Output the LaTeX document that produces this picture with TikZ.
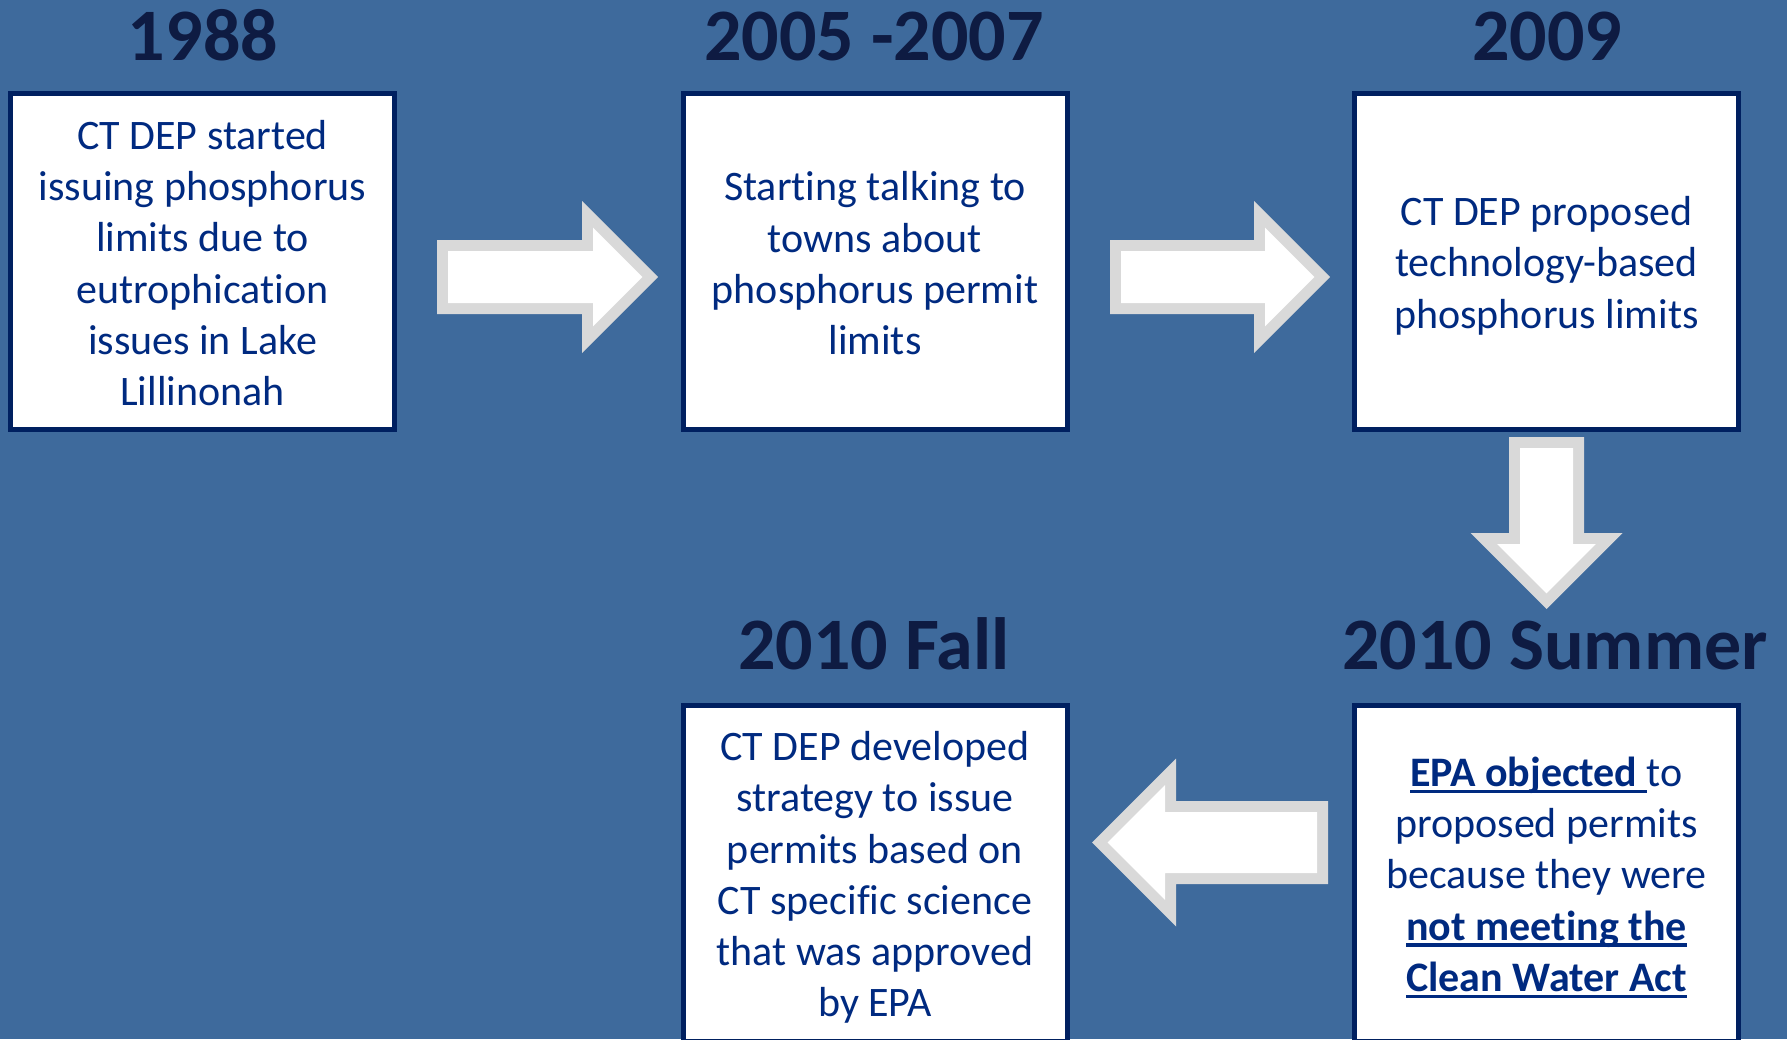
\documentclass[tikz,border=0pt]{standalone}
\usepackage{fontspec}
\setmainfont{Carlito}[Ligatures=NoCommon]
\definecolor{bgblue}{HTML}{3E6A9C}
\definecolor{boxnavy}{HTML}{002060}
\definecolor{bodyblue}{HTML}{002A80}
\definecolor{titlenavy}{HTML}{0E1B42}
\definecolor{rimgray}{HTML}{D9D9D9}

% bold text with a heavy underline
\newcommand\ulined[1]{\setbox0\hbox{\bfseries #1}\rlap{\rule[-7pt]{\wd0}{3.6pt}}\box0}

% block arrow pointing along +x: length, head length (= head half-height), shaft half-height
\newcommand\blockarrow[4]{%
  \begin{scope}[#1]
    \fill[rimgray] (0,-#4) -- ({#2-#3},-#4) -- ({#2-#3},-#3) -- (#2,0)
      -- ({#2-#3},#3) -- ({#2-#3},#4) -- (0,#4) -- cycle;
    \fill[white] (11,{-(#4-11)}) -- ({#2-#3+11},{-(#4-11)}) -- ({#2-#3+11},{-(#3-26.56)})
      -- ({#2-15.56},0) -- ({#2-#3+11},{#3-26.56}) -- ({#2-#3+11},{#4-11})
      -- (11,{#4-11}) -- cycle;
  \end{scope}}

\tikzset{
  stagebox/.style={draw=boxnavy, line width=5pt, fill=white, inner sep=0pt,
    minimum width=384pt, minimum height=336pt},
  stagetext/.style={inner sep=0pt, align=center, text=bodyblue,
    font=\fontsize{42}{51.3}\selectfont},
  yearlabel/.style={anchor=base, inner sep=0pt, text=titlenavy,
    font=\fontsize{74}{80}\selectfont\bfseries}
}

\begin{document}
\begin{tikzpicture}[x=1pt, y=-1pt]
  \useasboundingbox (0,0) rectangle (1787,1039);
  \clip (0,0) rectangle (1787,1039);
  \fill[bgblue] (0,0) rectangle (1787,1039);

  % year headings
  \node[yearlabel] (y1) at (203,60) {1988};
  \node[yearlabel] (y2) at (874,60) {2005 -2007};
  \node[yearlabel] (y3) at (1547,60) {2009};
  \node[yearlabel] (y4) at (874,669) {2010 Fall};
  \node[yearlabel] (y5) at (1555,669) {2010 Summer};

  % stage boxes
  \node[stagebox] (b1) at (202.5,261.5) {};
  \node[stagebox] (b2) at (875,261.5) {};
  \node[stagebox] (b3) at (1546.5,261.5) {};
  \node[stagebox] (b4) at (875,873.5) {};
  \node[stagebox] (b5) at (1546.5,873.5) {};

  % stage descriptions
  \node[stagetext] (t1) at ([yshift=-1.5pt]b1.center) {CT DEP started\\issuing phosphorus\\limits due to\\eutrophication\\issues in Lake\\Lillinonah};
  \node[stagetext] (t2) at ([yshift=-2pt]b2.center) {Starting talking to\\towns about\\phosphorus permit\\limits};
  \node[stagetext] (t3) at ([yshift=-4pt]b3.center) {CT DEP proposed\\technology-based\\phosphorus limits};
  \node[stagetext] (t4) at ([yshift=-4pt]b4.center) {CT DEP developed\\strategy to issue\\permits based on\\CT specific science\\that was approved\\by EPA};
  \node[stagetext] (t5) at ([yshift=-4pt]b5.center) {\ulined{EPA objected\ }to\\proposed permits\\because they were\\\ulined{not meeting the}\\\ulined{Clean Water Act}};

  % flow arrows between the stages
  \blockarrow{shift={(437,277)}}{221}{76}{37}
  \blockarrow{shift={(1110,277)}}{220}{76}{37}
  \blockarrow{shift={(1546.5,437)}, rotate=-90}{172}{76}{37.5}
  \blockarrow{shift={(1328,842.5)}, xscale=-1}{236}{84}{41.5}
\end{tikzpicture}
\end{document}
